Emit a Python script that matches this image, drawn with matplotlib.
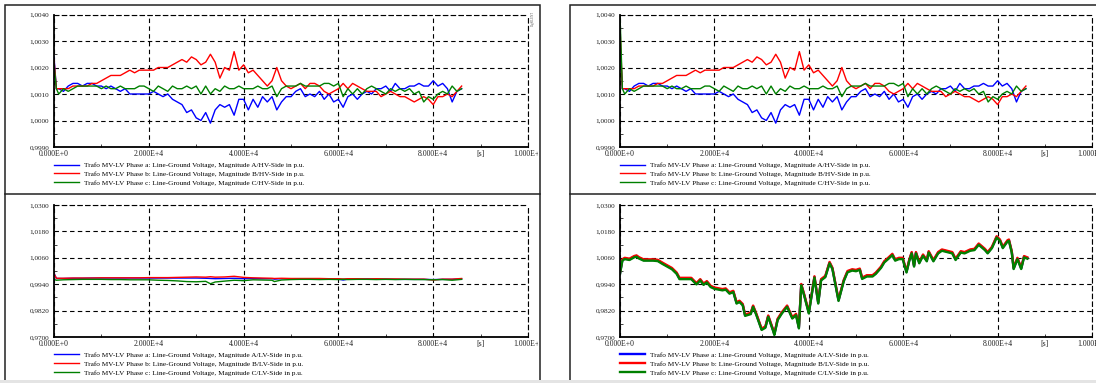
import matplotlib
matplotlib.use('agg')
import matplotlib.pyplot as plt
from matplotlib.patches import Rectangle
from matplotlib.lines import Line2D
from matplotlib.ticker import FuncFormatter, FixedLocator
from matplotlib.transforms import Bbox, TransformedBbox

plt.rcParams['font.family'] = ['Liberation Serif', 'DejaVu Serif']
plt.rcParams['font.size'] = 5

# ---------------- data ----------------
x_ticks = [0, 2e4, 4e4, 6e4, 8e4, 1e5]
x_minor = [1e4, 3e4, 5e4, 7e4, 9e4]
hv_yticks = [0.9990, 1.0000, 1.0010, 1.0020, 1.0030, 1.0040]
lv_yticks = [0.9700, 0.9820, 0.9940, 1.0060, 1.0180, 1.0300]

phases = ['a', 'b', 'c']
colors = ['#0000ff', '#ff0000', '#008000']

# HV side, t = 500 s .. 86000 s (start value at t = 0 kept separately)
t_hv = [500] + list(range(1000, 87000, 1000))
hv_a = [1.0012, 1.0012, 1.0011, 1.0013, 1.0014, 1.0014, 1.0013, 1.0014, 1.0014, 1.0013,
        1.0013, 1.0012, 1.0013, 1.0012, 1.0011, 1.0012, 1.0010, 1.0010, 1.0010, 1.0010,
        1.0010, 1.0011, 1.0010, 1.0009, 1.0010, 1.0008, 1.0007, 1.0006, 1.0003, 1.0004,
        1.0001, 1.0000, 1.0003, 0.9999, 1.0004, 1.0006, 1.0005, 1.0006, 1.0002, 1.0008,
        1.0008, 1.0004, 1.0008, 1.0005, 1.0009, 1.0007, 1.0009, 1.0004, 1.0007, 1.0009,
        1.0009, 1.0011, 1.0012, 1.0009, 1.0010, 1.0009, 1.0011, 1.0008, 1.0010, 1.0007,
        1.0008, 1.0005, 1.0009, 1.0010, 1.0008, 1.0010, 1.0011, 1.0010, 1.0012, 1.0012,
        1.0013, 1.0011, 1.0014, 1.0012, 1.0012, 1.0013, 1.0013, 1.0014, 1.0013, 1.0013,
        1.0015, 1.0013, 1.0014, 1.0012, 1.0007, 1.0011, 1.0012]
hv_b = [1.0012, 1.0012, 1.0012, 1.0012, 1.0013, 1.0013, 1.0013, 1.0013, 1.0014, 1.0014,
        1.0015, 1.0016, 1.0017, 1.0017, 1.0017, 1.0018, 1.0019, 1.0018, 1.0019, 1.0019,
        1.0019, 1.0019, 1.0020, 1.0020, 1.0020, 1.0021, 1.0022, 1.0023, 1.0022, 1.0024,
        1.0023, 1.0021, 1.0022, 1.0025, 1.0022, 1.0016, 1.0020, 1.0019, 1.0026, 1.0019,
        1.0021, 1.0018, 1.0019, 1.0017, 1.0015, 1.0013, 1.0015, 1.0020, 1.0015, 1.0013,
        1.0012, 1.0013, 1.0014, 1.0012, 1.0014, 1.0014, 1.0013, 1.0011, 1.0010, 1.0011,
        1.0012, 1.0014, 1.0012, 1.0014, 1.0013, 1.0012, 1.0011, 1.0011, 1.0011, 1.0009,
        1.0010, 1.0011, 1.0010, 1.0009, 1.0009, 1.0008, 1.0007, 1.0008, 1.0009, 1.0008,
        1.0006, 1.0009, 1.0009, 1.0010, 1.0009, 1.0011, 1.0013]
hv_c = [1.0012, 1.0010, 1.0012, 1.0011, 1.0012, 1.0013, 1.0013, 1.0013, 1.0013, 1.0013,
        1.0012, 1.0013, 1.0012, 1.0012, 1.0013, 1.0012, 1.0012, 1.0012, 1.0013, 1.0013,
        1.0012, 1.0011, 1.0013, 1.0012, 1.0011, 1.0013, 1.0012, 1.0012, 1.0013, 1.0012,
        1.0013, 1.0010, 1.0013, 1.0010, 1.0012, 1.0011, 1.0013, 1.0012, 1.0012, 1.0013,
        1.0012, 1.0012, 1.0012, 1.0013, 1.0012, 1.0012, 1.0013, 1.0009, 1.0012, 1.0013,
        1.0013, 1.0013, 1.0014, 1.0013, 1.0013, 1.0013, 1.0013, 1.0014, 1.0014, 1.0013,
        1.0014, 1.0009, 1.0012, 1.0010, 1.0012, 1.0010, 1.0012, 1.0013, 1.0012, 1.0011,
        1.0010, 1.0012, 1.0011, 1.0012, 1.0011, 1.0012, 1.0010, 1.0011, 1.0007, 1.0009,
        1.0008, 1.0010, 1.0011, 1.0010, 1.0013, 1.0011, 1.0012]
hv_start_left = [1.0024, 1.0023, 1.0021]
hv_start_right = [1.0030, 1.0035, 1.0040]

# LV side, left case
t_lv_left = [0, 500, 2000, 4000, 6000, 8000, 10000, 12000, 14000, 16000, 18000, 20000,
             22000, 24000, 26000, 28000, 30000, 32000, 33000, 34000, 36000, 38000, 40000,
             42000, 44000, 46000, 46500, 48000, 50000, 52000, 54000, 56000, 58000, 60000,
             61000, 62000, 64000, 66000, 68000, 70000, 72000, 74000, 76000, 78000, 80000,
             82000, 84000, 86000]
lv_left_a = [0.9990, 0.9966, 0.9966, 0.9967, 0.9967, 0.9968, 0.9968, 0.9968, 0.9968, 0.9968,
             0.9968, 0.9968, 0.9968, 0.9968, 0.9968, 0.9968, 0.9968, 0.9967, 0.9966, 0.9965,
             0.9966, 0.9967, 0.9965, 0.9966, 0.9965, 0.9965, 0.9963, 0.9965, 0.9964, 0.9965,
             0.9964, 0.9964, 0.9963, 0.9963, 0.9959, 0.9963, 0.9963, 0.9964, 0.9963, 0.9963,
             0.9962, 0.9962, 0.9962, 0.9962, 0.9961, 0.9962, 0.9962, 0.9964]
lv_left_b = [0.9988, 0.9967, 0.9967, 0.9968, 0.9968, 0.9968, 0.9969, 0.9969, 0.9969, 0.9969,
             0.9969, 0.9970, 0.9970, 0.9970, 0.9971, 0.9972, 0.9973, 0.9972, 0.9974, 0.9972,
             0.9973, 0.9976, 0.9971, 0.9969, 0.9968, 0.9967, 0.9966, 0.9967, 0.9966, 0.9966,
             0.9966, 0.9966, 0.9965, 0.9965, 0.9964, 0.9965, 0.9965, 0.9964, 0.9965, 0.9964,
             0.9964, 0.9963, 0.9963, 0.9963, 0.9959, 0.9963, 0.9963, 0.9966]
lv_left_c = [0.9962, 0.9958, 0.9960, 0.9961, 0.9962, 0.9962, 0.9962, 0.9961, 0.9961, 0.9960,
             0.9960, 0.9960, 0.9958, 0.9957, 0.9955, 0.9952, 0.9951, 0.9953, 0.9942, 0.9950,
             0.9954, 0.9958, 0.9956, 0.9960, 0.9959, 0.9958, 0.9952, 0.9959, 0.9961, 0.9962,
             0.9962, 0.9961, 0.9962, 0.9961, 0.9962, 0.9961, 0.9962, 0.9962, 0.9961, 0.9962,
             0.9961, 0.9962, 0.9961, 0.9961, 0.9960, 0.9961, 0.9958, 0.9962]

# LV side, right case
t_lv_right = [0, 500, 1000, 2000, 3000, 3500, 4000, 5000, 7000, 8000,
              9000, 10000, 11000, 12000, 12600, 15100, 16200, 17000, 17700, 18400,
              19200, 20000, 21700, 22400, 23200, 24000, 24700, 25300, 26000, 26500,
              27700, 28200, 28900, 30000, 30800, 31400, 32500, 32700, 33400, 34300,
              35400, 36500, 37300, 37900, 38400, 39100, 40000, 41200, 42000, 42600,
              43500, 44400, 45000, 46300, 47400, 48200, 49200, 50000, 50800, 51300,
              52300, 53500, 54200, 55300, 56000, 56800, 57700, 58300, 59100, 59900,
              60700, 61300, 61800, 62300, 62700, 63400, 64200, 65000, 65400, 66400,
              67400, 68200, 70400, 71100, 72200, 73000, 74200, 75100, 76000, 77300,
              77900, 78800, 79800, 80500, 81100, 82100, 82400, 83000, 83400, 84200,
              85000, 85600, 86300]
lv_right_a = [0.9990, 1.0050, 1.0057, 1.0053, 1.0065, 1.0068, 1.0060, 1.0050, 1.0050, 1.0048,
              1.0035, 1.0023, 1.0011, 0.9990, 0.9966, 0.9966, 0.9942, 0.9960, 0.9940, 0.9951,
              0.9930, 0.9922, 0.9915, 0.9918, 0.9900, 0.9907, 0.9855, 0.9862, 0.9847, 0.9799,
              0.9807, 0.9840, 0.9802, 0.9735, 0.9745, 0.9795, 0.9727, 0.9712, 0.9780, 0.9810,
              0.9840, 0.9787, 0.9802, 0.9742, 0.9938, 0.9885, 0.9810, 0.9973, 0.9855, 0.9960,
              0.9975, 1.0038, 1.0012, 0.9867, 0.9956, 0.9997, 1.0005, 1.0002, 1.0008, 0.9967,
              0.9978, 0.9978, 0.9990, 1.0017, 1.0042, 1.0057, 1.0075, 1.0050, 1.0057, 1.0057,
              0.9996, 1.0050, 1.0083, 1.0023, 1.0083, 1.0038, 1.0072, 1.0047, 1.0087, 1.0047,
              1.0083, 1.0095, 1.0083, 1.0053, 1.0087, 1.0083, 1.0095, 1.0098, 1.0122, 1.0098,
              1.0083, 1.0107, 1.0155, 1.0140, 1.0107, 1.0137, 1.0140, 1.0087, 1.0012, 1.0057,
              1.0012, 1.0065, 1.0059]
lv_right_b = [0.9993, 1.0053, 1.0060, 1.0056, 1.0068, 1.0071, 1.0063, 1.0053, 1.0053, 1.0051,
              1.0038, 1.0026, 1.0014, 0.9993, 0.9969, 0.9969, 0.9945, 0.9963, 0.9943, 0.9954,
              0.9933, 0.9925, 0.9918, 0.9921, 0.9903, 0.9910, 0.9858, 0.9865, 0.9850, 0.9802,
              0.9810, 0.9843, 0.9805, 0.9738, 0.9748, 0.9798, 0.9730, 0.9715, 0.9783, 0.9813,
              0.9843, 0.9790, 0.9805, 0.9745, 0.9941, 0.9888, 0.9813, 0.9976, 0.9858, 0.9963,
              0.9978, 1.0041, 1.0015, 0.9870, 0.9959, 1.0000, 1.0008, 1.0005, 1.0011, 0.9970,
              0.9981, 0.9981, 0.9993, 1.0020, 1.0045, 1.0060, 1.0078, 1.0053, 1.0060, 1.0060,
              0.9999, 1.0053, 1.0086, 1.0026, 1.0086, 1.0041, 1.0075, 1.0050, 1.0090, 1.0050,
              1.0086, 1.0098, 1.0086, 1.0056, 1.0090, 1.0086, 1.0098, 1.0101, 1.0125, 1.0101,
              1.0086, 1.0110, 1.0158, 1.0143, 1.0110, 1.0140, 1.0143, 1.0090, 1.0015, 1.0060,
              1.0015, 1.0068, 1.0062]
lv_right_c = [0.9987, 1.0047, 1.0054, 1.0050, 1.0062, 1.0065, 1.0057, 1.0047, 1.0047, 1.0045,
              1.0032, 1.0020, 1.0008, 0.9987, 0.9963, 0.9963, 0.9939, 0.9957, 0.9937, 0.9948,
              0.9927, 0.9919, 0.9912, 0.9915, 0.9897, 0.9904, 0.9852, 0.9859, 0.9844, 0.9796,
              0.9804, 0.9837, 0.9799, 0.9732, 0.9742, 0.9792, 0.9724, 0.9709, 0.9777, 0.9807,
              0.9837, 0.9784, 0.9799, 0.9739, 0.9935, 0.9882, 0.9807, 0.9970, 0.9852, 0.9957,
              0.9972, 1.0035, 1.0009, 0.9864, 0.9953, 0.9994, 1.0002, 0.9999, 1.0005, 0.9964,
              0.9975, 0.9975, 0.9987, 1.0014, 1.0039, 1.0054, 1.0072, 1.0047, 1.0054, 1.0054,
              0.9993, 1.0047, 1.0080, 1.0020, 1.0080, 1.0035, 1.0069, 1.0044, 1.0084, 1.0044,
              1.0080, 1.0092, 1.0080, 1.0050, 1.0084, 1.0080, 1.0092, 1.0095, 1.0119, 1.0095,
              1.0080, 1.0104, 1.0152, 1.0137, 1.0104, 1.0134, 1.0137, 1.0084, 1.0009, 1.0054,
              1.0009, 1.0062, 1.0056]


def sci_label(v, pos):
    if v == 0:
        return '0.000E+0'
    exp = len(str(int(v))) - 1
    return f'{v / 10 ** exp:.3f}E+{exp}'


def style_axes(ax, yticks):
    ax.set_xlim(0, 1e5)
    ax.set_ylim(yticks[0], yticks[-1])
    ax.xaxis.set_major_locator(FixedLocator(x_ticks))
    ax.xaxis.set_minor_locator(FixedLocator(x_minor))
    ax.yaxis.set_major_locator(FixedLocator(yticks))
    step = yticks[1] - yticks[0]
    ax.yaxis.set_minor_locator(FixedLocator([y + step / 2 for y in yticks[:-1]]))
    ax.xaxis.set_major_formatter(FuncFormatter(sci_label))
    ax.yaxis.set_major_formatter(FuncFormatter(lambda v, p: f'{v:.4f}'.replace('.', ',')))
    ax.grid(True, which='major', color='black', linestyle=(0, (4, 3)), linewidth=0.8)
    for s in ['top', 'right']:
        ax.spines[s].set_linestyle((0, (4, 3)))
        ax.spines[s].set_linewidth(0.8)
    for s in ['left', 'bottom']:
        ax.spines[s].set_linewidth(1.3)
    ax.tick_params(which='both', direction='in', width=0.6, colors='#222222')
    ax.tick_params(which='major', length=0, pad=2.5)
    ax.tick_params(which='minor', length=2.5)
    ax.tick_params(axis='x', labelsize=5.6)
    ax.tick_params(axis='y', pad=3.5, labelsize=5.2)
    ax.text(9e4, -0.022, '[s]', transform=ax.get_xaxis_transform(),
            ha='center', va='top', fontsize=5.6, color='#222222')


def add_legend(ax, lines, side):
    labels = [f'Trafo MV-LV Phase {p}: Line-Ground Voltage, Magnitude {p.upper()}/{side}-Side in p.u.'
              for p in phases]
    ax.legend(lines, labels, loc='upper left', bbox_to_anchor=(0, -0.113), frameon=False,
              fontsize=5.2, handlelength=3.5, handletextpad=0.65, labelspacing=0.4,
              borderpad=0, borderaxespad=0)


fig = plt.figure(figsize=(10.96, 3.83), dpi=100)

W, H = 1096, 383
def box(l, t, r, b):
    return [l / W, 1 - b / H, (r - l) / W, (b - t) / H]

ax_tl = fig.add_axes(box(54, 14.5, 528, 147))
ax_bl = fig.add_axes(box(54, 205, 528, 337))
ax_tr = fig.add_axes(box(620, 14.5, 1092, 147))
ax_br = fig.add_axes(box(620, 205, 1092, 337))

hv = [hv_a, hv_b, hv_c]
for ax, starts in [(ax_tl, hv_start_left), (ax_tr, hv_start_right)]:
    lines = []
    for vals, s, c in zip(hv, starts, colors):
        ln, = ax.plot([0] + t_hv, [s] + vals, color=c, lw=1.0)
        lines.append(ln)
    style_axes(ax, hv_yticks)
    add_legend(ax, lines, 'HV')

lines = []
for vals, c in zip([lv_left_a, lv_left_b, lv_left_c], colors):
    ln, = ax_bl.plot(t_lv_left, vals, color=c, lw=1.0)
    lines.append(ln)
style_axes(ax_bl, lv_yticks)
add_legend(ax_bl, lines, 'LV')

lines = []
for vals, c in zip([lv_right_a, lv_right_b, lv_right_c], colors):
    ln, = ax_br.plot(t_lv_right, vals, color=c, lw=1.7)
    lines.append(ln)
style_axes(ax_br, lv_yticks)
add_legend(ax_br, lines, 'LV')

# outer frames
frame_kw = dict(transform=fig.transFigure, fill=False, edgecolor='#222222', lw=1.1)
fig.add_artist(Rectangle((5 / W, -0.05), 535 / W, 1.05 - 5 / H, **frame_kw))
fig.add_artist(Rectangle((570 / W, -0.05), 0.6, 1.05 - 5 / H, **frame_kw))
for x0, x1 in [(5 / W, 540 / W), (570 / W, 1.1)]:
    fig.add_artist(Line2D([x0, x1], [1 - 194 / H, 1 - 194 / H], transform=fig.transFigure,
                          color='#222222', lw=1.1))
fig.add_artist(Rectangle((0, 0), 1, 3 / H, transform=fig.transFigure,
                         facecolor='#e4e4e4', edgecolor='none'))
fig.text(533 / W, 1 - 18 / H, 'DIgSILENT', rotation=90, fontsize=2.2, color='#555555',
         ha='center', va='center')

# clip the left-hand tick labels at the frame edge
fig.canvas.draw()
clip = TransformedBbox(Bbox([[0, 0], [538 / W, 1]]), fig.transFigure)
for ax in (ax_tl, ax_bl):
    for lab in ax.get_xticklabels():
        lab.set_clip_on(True)
        lab.set_clip_box(clip)

fig.savefig('out.png', dpi=100)
